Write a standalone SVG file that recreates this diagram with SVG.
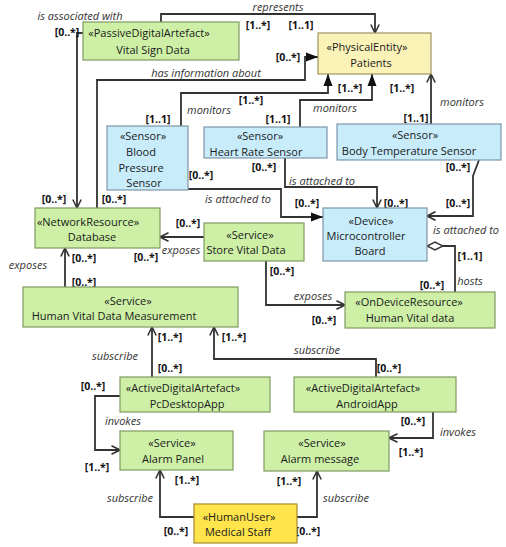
<svg xmlns="http://www.w3.org/2000/svg" width="506" height="547" viewBox="0 0 506 547">
<style>
.n text{font-family:"Open Sans","Noto Sans","DejaVu Sans",sans-serif;font-size:11px;fill:#1a1a1a;text-anchor:middle}
.g rect{fill:#cdf0a6;stroke:#7f9a62;stroke-width:1.2}
.b rect{fill:#c8ecfa;stroke:#7d97a8;stroke-width:1.2}
.y rect{fill:#fbf2b8;stroke:#9d9462;stroke-width:1.2}
.h rect{fill:#ffe44c;stroke:#a38c2a;stroke-width:1.2}
.c path{fill:none;stroke:#333;stroke-width:1.8}
.l{font-family:"Open Sans","Noto Sans","DejaVu Sans",sans-serif;font-size:11px;font-style:italic;fill:#333;text-anchor:middle}
.m{font-family:"Open Sans","Noto Sans","DejaVu Sans",sans-serif;font-size:10.5px;font-weight:bold;fill:#111;text-anchor:middle}
</style>
<defs>
<marker id="open" viewBox="0 0 10 10" refX="9.5" refY="5" markerWidth="10" markerHeight="10" orient="auto" markerUnits="userSpaceOnUse"><path d="M1,0.8 L9.5,5 L1,9.2" fill="none" stroke="#333" stroke-width="1.6"/></marker>
<marker id="filled" viewBox="0 0 12 10" refX="12" refY="5" markerWidth="12" markerHeight="10" orient="auto" markerUnits="userSpaceOnUse"><path d="M0,0.5 L12,5 L0,9.5 Z" fill="#111"/></marker>
<marker id="dia" viewBox="0 0 17 10" refX="0.5" refY="5" markerWidth="17" markerHeight="10" orient="auto" markerUnits="userSpaceOnUse"><path d="M0.5,5 L8.5,1 L16.5,5 L8.5,9 Z" fill="#fff" stroke="#333" stroke-width="1.4"/></marker>
</defs>
<rect width="506" height="547" fill="#fff"/>

<g class="c" id="connectors">
<path d="M83,33 H77 V208" marker-end="url(#open)"/>
<path d="M161,22 V14 H375 V33" marker-end="url(#open)"/>
<path d="M97,208 V80 H305 V57 H318" marker-end="url(#filled)"/>
<path d="M181,126 V93 H328 V74" marker-end="url(#filled)"/>
<path d="M300,127 V100 H372 V74" marker-end="url(#filled)"/>
<path d="M431,124 V74" marker-end="url(#open)"/>
<path d="M188,189 H281 V217 H323" marker-end="url(#filled)"/>
<path d="M285,158 V187 H377 V208" marker-end="url(#open)"/>
<path d="M479,160 L473,176 V216 H427" marker-end="url(#open)"/>
<path d="M427,246 H455 V292" marker-start="url(#dia)"/>
<path d="M204,237 H160" marker-end="url(#open)"/>
<path d="M266,261 V305 H345" marker-end="url(#open)"/>
<path d="M65,287 V248" marker-end="url(#open)"/>
<path d="M152,377 V327" marker-end="url(#open)"/>
<path d="M376,377 V359 H214 V327" marker-end="url(#open)"/>
<path d="M120,396 H95 V450 H120" marker-end="url(#open)"/>
<path d="M433,412 V438 H389" marker-end="url(#open)"/>
<path d="M194,517 H160 V470" marker-end="url(#open)"/>
<path d="M297,517 H317 V471" marker-end="url(#open)"/>
</g>

<g id="labels">
<text class="l" x="80" y="20">is associated with</text>
<text class="l" x="278" y="10.5">represents</text>
<text class="l" x="206" y="77">has information about</text>
<text class="l" x="209" y="114">monitors</text>
<text class="l" x="335" y="112">monitors</text>
<text class="l" x="462" y="106">monitors</text>
<text class="l" x="238" y="203">is attached to</text>
<text class="l" x="322" y="185">is attached to</text>
<text class="l" x="466" y="234">is attached to</text>
<text class="l" x="470" y="285">hosts</text>
<text class="l" x="181" y="254">exposes</text>
<text class="l" x="313" y="300">exposes</text>
<text class="l" x="28" y="269">exposes</text>
<text class="l" x="115" y="360">subscribe</text>
<text class="l" x="317" y="354">subscribe</text>
<text class="l" x="123" y="425">invokes</text>
<text class="l" x="458" y="436">invokes</text>
<text class="l" x="130" y="502">subscribe</text>
<text class="l" x="346" y="502">subscribe</text>

<text class="m" x="67" y="36">[0..*]</text>
<text class="m" x="54" y="203">[0..*]</text>
<text class="m" x="114" y="203">[0..*]</text>
<text class="m" x="288" y="61">[0..*]</text>
<text class="m" x="258" y="29">[1..*]</text>
<text class="m" x="301" y="29">[1..1]</text>
<text class="m" x="158" y="123">[1..1]</text>
<text class="m" x="251" y="104">[1..*]</text>
<text class="m" x="278" y="123">[1..1]</text>
<text class="m" x="350" y="92">[1..*]</text>
<text class="m" x="402" y="92">[1..*]</text>
<text class="m" x="416" y="122">[1..1]</text>
<text class="m" x="201" y="179">[0..*]</text>
<text class="m" x="307" y="207">[0..*]</text>
<text class="m" x="264" y="171">[0..*]</text>
<text class="m" x="396" y="207">[0..*]</text>
<text class="m" x="458" y="171">[0..*]</text>
<text class="m" x="458" y="207">[0..*]</text>
<text class="m" x="470" y="260">[1..1]</text>
<text class="m" x="432" y="289">[0..*]</text>
<text class="m" x="188" y="227">[0..*]</text>
<text class="m" x="146" y="261">[0..*]</text>
<text class="m" x="282" y="275">[0..*]</text>
<text class="m" x="324" y="324">[0..*]</text>
<text class="m" x="84" y="262">[0..*]</text>
<text class="m" x="84" y="286">[0..*]</text>
<text class="m" x="170" y="341">[1..*]</text>
<text class="m" x="170" y="372">[0..*]</text>
<text class="m" x="234" y="341">[1..*]</text>
<text class="m" x="389" y="372">[0..*]</text>
<text class="m" x="93" y="390">[0..*]</text>
<text class="m" x="97" y="471">[1..*]</text>
<text class="m" x="413" y="425">[0..*]</text>
<text class="m" x="411" y="456">[1..*]</text>
<text class="m" x="187" y="484">[1..*]</text>
<text class="m" x="176" y="535">[0..*]</text>
<text class="m" x="289" y="485">[1..*]</text>
<text class="m" x="308" y="535">[0..*]</text>
</g>

<g id="vitalSignData" class="n g"><rect x="83" y="22" width="156" height="38"/><text x="149" y="37">«PassiveDigitalArtefact»</text><text x="153" y="54">Vital Sign Data</text></g>
<g id="patients" class="n y"><rect x="318" y="33" width="113" height="41"/><text x="367" y="51">«PhysicalEntity»</text><text x="371" y="67">Patients</text></g>
<g id="bloodPressureSensor" class="n b"><rect x="107" y="126" width="81" height="64"/><text x="143" y="140">«Sensor»</text><text x="141" y="156">Blood</text><text x="141" y="172">Pressure</text><text x="144" y="187">Sensor</text></g>
<g id="heartRateSensor" class="n b"><rect x="204" y="127" width="123" height="31"/><text x="260" y="140">«Sensor»</text><text x="256" y="156">Heart Rate Sensor</text></g>
<g id="bodyTemperatureSensor" class="n b"><rect x="337" y="124" width="164" height="36"/><text x="415" y="139">«Sensor»</text><text x="409" y="155">Body Temperature Sensor</text></g>
<g id="database" class="n g"><rect x="35" y="208" width="125" height="40"/><text x="88" y="226">«NetworkResource»</text><text x="92" y="241">Database</text></g>
<g id="storeVitalData" class="n g"><rect x="204" y="223" width="100" height="38"/><text x="250" y="239">«Service»</text><text x="246" y="254">Store Vital Data</text></g>
<g id="microcontrollerBoard" class="n b"><rect x="323" y="208" width="104" height="53"/><text x="371" y="225">«Device»</text><text x="366" y="240">Microcontroller</text><text x="370" y="255">Board</text></g>
<g id="humanVitalDataMeasurement" class="n g"><rect x="23" y="287" width="215" height="40"/><text x="128" y="305">«Service»</text><text x="114" y="320">Human Vital Data Measurement</text></g>
<g id="humanVitalData" class="n g"><rect x="345" y="292" width="150" height="36"/><text x="409" y="306">«OnDeviceResource»</text><text x="410" y="322">Human Vital data</text></g>
<g id="pcDesktopApp" class="n g"><rect x="120" y="377" width="150" height="35"/><text x="183" y="392">«ActiveDigitalArtefact»</text><text x="187" y="408">PcDesktopApp</text></g>
<g id="androidApp" class="n g"><rect x="294" y="377" width="162" height="35"/><text x="363" y="392">«ActiveDigitalArtefact»</text><text x="367" y="408">AndroidApp</text></g>
<g id="alarmPanel" class="n g"><rect x="120" y="431" width="113" height="39"/><text x="172" y="447">«Service»</text><text x="173" y="463">Alarm Panel</text></g>
<g id="alarmMessage" class="n g"><rect x="264" y="431" width="125" height="40"/><text x="322" y="447">«Service»</text><text x="320" y="463">Alarm message</text></g>
<g id="medicalStaff" class="n h"><rect x="194" y="504" width="103" height="39"/><text x="239" y="521">«HumanUser»</text><text x="238" y="536">Medical Staff</text></g>
</svg>
